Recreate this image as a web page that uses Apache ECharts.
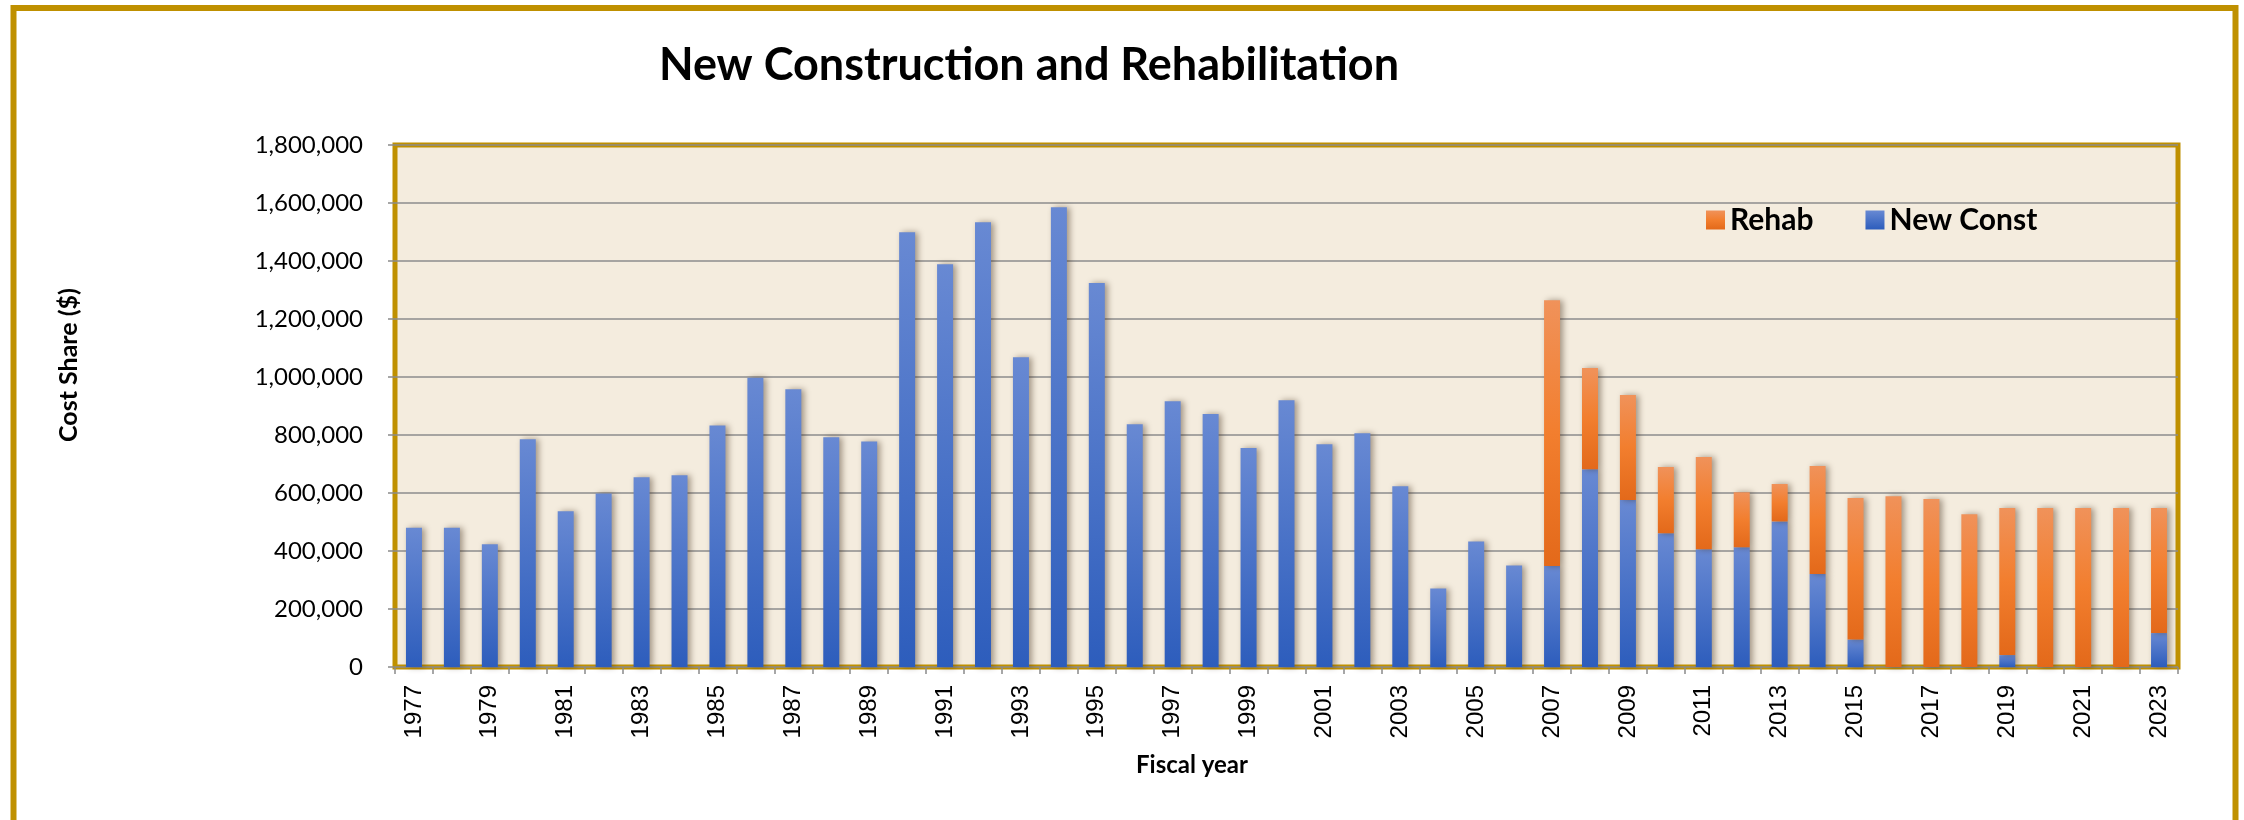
<!DOCTYPE html>
<html><head><meta charset="utf-8">
<script src="https://cdn.jsdelivr.net/npm/echarts@6/dist/echarts.min.js"></script>
<style>html,body{margin:0;padding:0;background:#fff}#c{width:2244px;height:820px}</style>
</head><body><div id="c"></div>
<script>
const years = ['1977','1978','1979','1980','1981','1982','1983','1984','1985','1986',
  '1987','1988','1989','1990','1991','1992','1993','1994','1995','1996',
  '1997','1998','1999','2000','2001','2002','2003','2004','2005','2006',
  '2007','2008','2009','2010','2011','2012','2013','2014','2015','2016',
  '2017','2018','2019','2020','2021','2022','2023'];
const newConst = [480000,480000,423000,785000,537000,598000,654000,661000,833000,997000,
  958000,792000,778000,1499000,1389000,1534000,1068000,1585000,1324000,837000,
  916000,872000,755000,920000,768000,806000,623000,271000,433000,350000,
  348000,682000,576000,461000,406000,413000,502000,321000,95000,0,
  0,0,41000,0,0,0,117000];
const rehab = [0,0,0,0,0,0,0,0,0,0,
  0,0,0,0,0,0,0,0,0,0,
  0,0,0,0,0,0,0,0,0,0,
  917000,349000,362000,229000,318000,190000,129000,372000,488000,589000,
  579000,527000,507000,548000,548000,548000,431000];
const yMin = 0, yMax = 1800000, yStep = 200000;

const GOLD = '#BF9000';
const chart = echarts.init(document.getElementById('c'), null, {renderer: 'canvas'});
const blue = new echarts.graphic.LinearGradient(0, 0, 0, 1, [
  {offset: 0, color: '#6889D3'}, {offset: 1, color: '#2D5DBC'}]);
const orange = new echarts.graphic.LinearGradient(0, 0, 0, 1, [
  {offset: 0, color: '#F0925A'}, {offset: 0.5, color: '#F27E2E'}, {offset: 1, color: '#E3691A'}]);
const shadow = {shadowBlur: 6, shadowColor: 'rgba(60,40,20,0.45)', shadowOffsetX: 3, shadowOffsetY: 0};

chart.setOption({
  animation: false,
  backgroundColor: '#ffffff',
  graphic: [
    {type: 'rect', shape: {x: 13.5, y: 8, width: 2222, height: 900},
     style: {fill: 'none', stroke: GOLD, lineWidth: 6}, z: 100},
    {type: 'text', x: 1029, y: 65, z: 100,
     style: {text: 'New Construction and Rehabilitation', font: 'bold 45px Lato',
             fill: '#000', textAlign: 'center', textVerticalAlign: 'middle'}},
    {type: 'text', x: 1192, y: 765, z: 100,
     style: {text: 'Fiscal year', font: 'bold 24px Lato',
             fill: '#000', textAlign: 'center', textVerticalAlign: 'middle'}},
    {type: 'text', x: 69, y: 365, rotation: Math.PI / 2, z: 100,
     style: {text: 'Cost Share ($)', font: 'bold 25px Lato',
             fill: '#000', textAlign: 'center', textVerticalAlign: 'middle'}}
  ],
  legend: {
    data: ['Rehab', 'New Const'],
    left: 1701, top: 200,
    itemWidth: 19, itemHeight: 19, itemGap: 52,
    icon: 'rect',
    textStyle: {fontFamily: 'Lato', fontWeight: 'bold', fontSize: 30, color: '#000'}
  },
  grid: {
    left: 395, right: 66, top: 145, bottom: 153,
    show: true, backgroundColor: '#F4ECDE', borderColor: GOLD, borderWidth: 5
  },
  xAxis: {
    type: 'category', data: years,
    axisLine: {show: false},
    axisTick: {show: true, interval: 0, length: 7, lineStyle: {color: '#8a8a8a', width: 1.5}},
    axisLabel: {interval: 1, rotate: 90, margin: 18, fontFamily: 'Liberation Sans', fontSize: 24, color: '#000'},
    splitLine: {show: false}
  },
  yAxis: {
    type: 'value', min: yMin, max: yMax, interval: yStep,
    axisLine: {show: false},
    axisTick: {show: true, length: 7, lineStyle: {color: '#8a8a8a', width: 1.5}},
    axisLabel: {margin: 32, fontFamily: 'Lato', fontSize: 24, color: '#000',
      formatter: v => v.toLocaleString('en-US')},
    splitLine: {show: true, lineStyle: {color: '#8c8c8c', width: 1.5}}
  },
  series: [
    {name: 'New Const', type: 'bar', stack: 'total', data: newConst, barWidth: 16,
     itemStyle: Object.assign({color: blue}, shadow)},
    {name: 'Rehab', type: 'bar', stack: 'total', data: rehab, barWidth: 16,
     itemStyle: Object.assign({color: orange}, shadow)}
  ]
});
</script></body></html>
